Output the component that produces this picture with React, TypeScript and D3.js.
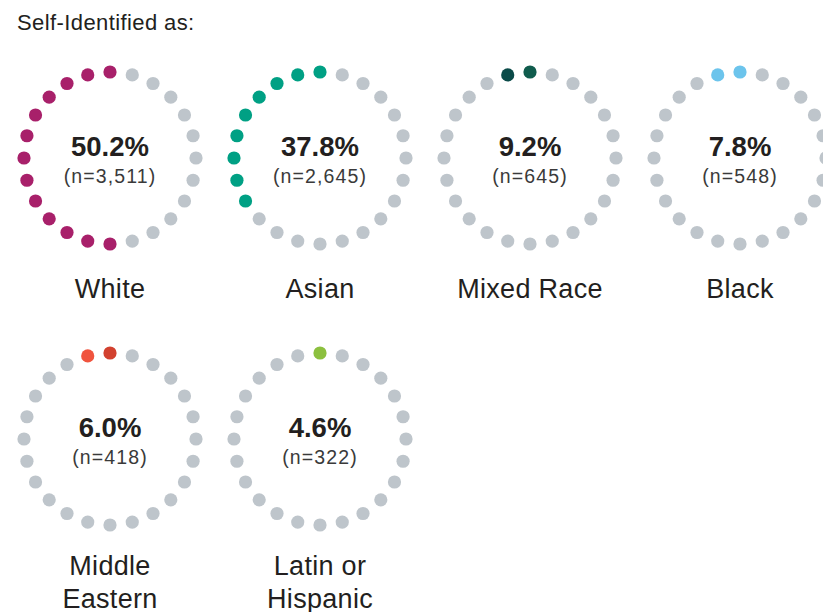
import React from "react";
import * as d3 from "d3";

// categories and values
const categories = ["White", "Asian", "Mixed Race", "Black", "Middle Eastern", "Latin or Hispanic"];
const labelLines = [["White"], ["Asian"], ["Mixed Race"], ["Black"], ["Middle", "Eastern"], ["Latin or", "Hispanic"]];
const percents = [50.2, 37.8, 9.2, 7.8, 6.0, 4.6];
const counts = [3511, 2645, 645, 548, 418, 322];
// number of coloured dots in each ring (out of 24)
const filledDots = [13, 9, 2, 2, 2, 1];
const dotColors = [
  ["#a8206a"],
  ["#00a084"],
  ["#105c4d", "#0a4a48"],
  ["#6cc4ec"],
  ["#d2412f", "#f0543e"],
  ["#8cc03f"],
];

const DOTS = 24;
const width = 823;
const height = 612;
const ringR = 86;
const dotR = 6.6;
const grey = "#bec5cb";
const ink = "#231f20";
const font = "'Liberation Sans', Arial, sans-serif";

export default function App() {
  const perRow = 4;
  const x = d3.scaleLinear().domain([0, 1]).range([110, 320]);
  const y = d3.scaleLinear().domain([0, 1]).range([158, 439]);
  // angle 0 is at the top, filling runs counter-clockwise
  const angle = d3.scaleLinear().domain([0, DOTS]).range([0, -2 * Math.PI]);
  const fmt = d3.format(",");

  return (
    <svg
      width={width}
      height={height}
      style={{ position: "absolute", left: 0, top: 0, background: "#fff" }}
    >
      <text x={17} y={30} fontFamily={font} fontSize={22} fill={ink} letterSpacing={0.4}>
        Self-Identified as:
      </text>
      {categories.map((c, i) => {
        const cx = x(i % perRow);
        const cy = y(Math.floor(i / perRow));
        const cols = dotColors[i];
        return (
          <g key={c} transform={`translate(${cx},${cy})`}>
            {d3.range(DOTS).map((k) => {
              const a = angle(k);
              const filled = k < filledDots[i];
              return (
                <circle
                  key={k}
                  cx={ringR * Math.sin(a)}
                  cy={-ringR * Math.cos(a)}
                  r={dotR}
                  fill={filled ? cols[k % cols.length] : grey}
                />
              );
            })}
            <text
              y={-2}
              textAnchor="middle"
              fontFamily={font}
              fontWeight="bold"
              fontSize={27.5}
              fill={ink}
            >
              {d3.format(".1f")(percents[i])}%
            </text>
            <text
              y={25}
              textAnchor="middle"
              fontFamily={font}
              fontSize={19.5}
              letterSpacing={1.1}
              fill="#3a3a3a"
            >
              (n={fmt(counts[i])})
            </text>
            {labelLines[i].map((line, j) => (
              <text
                key={j}
                y={(i < perRow ? 140 : 136) + j * 33}
                textAnchor="middle"
                fontFamily={font}
                fontSize={27}
                letterSpacing={0.3}
                fill={ink}
              >
                {line}
              </text>
            ))}
          </g>
        );
      })}
    </svg>
  );
}
